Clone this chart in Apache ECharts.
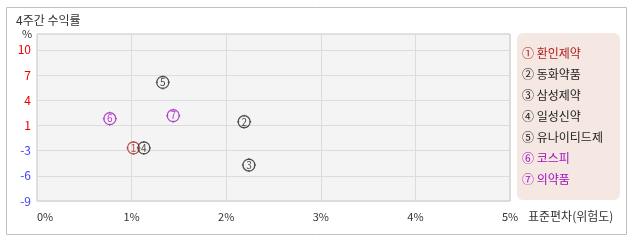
<!DOCTYPE html>
<html><head><meta charset="utf-8">
<script src="https://cdn.jsdelivr.net/npm/echarts@6/dist/echarts.min.js"></script>
<style>html,body{margin:0;padding:0;background:#fff}#c{width:638px;height:242px}</style>
</head><body><div id="c"></div>
<script>
var names = ['환인제약','동화약품','삼성제약','일성신약','유나이티드제','코스피','의약품'];
var marks = ['①','②','③','④','⑤','⑥','⑦'];
var stdDev = [1.02, 2.19, 2.24, 1.13, 1.33, 0.77, 1.44];
var returns = [-2.32, 0.97, -4.48, -2.32, 5.91, 1.35, 1.73];
var colors = ['#b01c1c','#222222','#222222','#222222','#222222','#a010c0','#a010c0'];
var xTickLabels = ['0%','1%','2%','3%','4%','5%'];
var yTickLabels = ['-9','-6','-3','1','4','7','10'];

var FONT = '"Noto Sans CJK KR", "Noto Sans", sans-serif';
var chart = echarts.init(document.getElementById('c'), null, {renderer:'canvas'});
var sym = 'path://M7,1A6,6,0,1,1,6.99,1Z M7,0L7,2 M7,12L7,14 M0,7L2,7 M12,7L14,7';

var data = names.map(function(n,i){
  return {name:n, value:[stdDev[i], returns[i]],
    itemStyle:{color:'rgba(0,0,0,0)', borderColor:colors[i], borderWidth:1.2},
    label:{color:colors[i]}};
});

var legendTexts = names.map(function(n,i){
  return {type:'text', left:522, top:47+21*i,
    style:{text:marks[i]+' '+n, fill:colors[i], font:'12px '+FONT}};
});

chart.setOption({
  animation:false,
  title:{text:'4주간 수익률', left:11, top:9, textStyle:{fontSize:12, fontWeight:'normal', color:'#333', fontFamily:FONT}},
  grid:{left:37, top:34, right:128, bottom:41, show:true, backgroundColor:'#f4f4f4', borderColor:'#c4c4c4', borderWidth:1},
  xAxis:{type:'value', min:0, max:5, interval:1,
    axisLine:{show:false}, axisTick:{show:false},
    splitLine:{lineStyle:{color:'#dcdcdc'}},
    axisLabel:{margin:10, fontSize:11, color:'#333', fontFamily:FONT, alignMinLabel:'left',
      formatter:function(v,i){return xTickLabels[i]||'';}}},
  yAxis:{type:'value', min:-9, max:12, interval:19/6,
    axisLine:{show:false}, axisTick:{show:false},
    splitLine:{lineStyle:{color:'#dcdcdc'}},
    axisLabel:{margin:6, fontSize:12, fontFamily:FONT, showMaxLabel:false,
      formatter:function(v,i){return yTickLabels[i]||'';},
      color:function(v,i){return v<0?'#4040ff':'#ee0000';}}},
  series:[{type:'scatter', symbol:sym, symbolSize:14, data:data,
    label:{show:true, position:'inside', fontSize:10, fontFamily:FONT,
      formatter:function(p){return String(p.dataIndex+1);}}}],
  graphic:[
    {type:'rect', shape:{x:6.5,y:7.5,width:620,height:227}, style:{fill:'none', stroke:'#c0c0c0', lineWidth:1}, silent:true},
    {type:'text', left:22, top:28, style:{text:'%', fill:'#333', font:'11px '+FONT}},
    {type:'text', left:528, top:210, style:{text:'표준편차(위험도)', fill:'#333', font:'12px '+FONT}},
    {type:'rect', shape:{x:517,y:33,width:103,height:167,r:6}, style:{fill:'#f5e8e2'}, silent:true}
  ].concat(legendTexts)
});
</script></body></html>
